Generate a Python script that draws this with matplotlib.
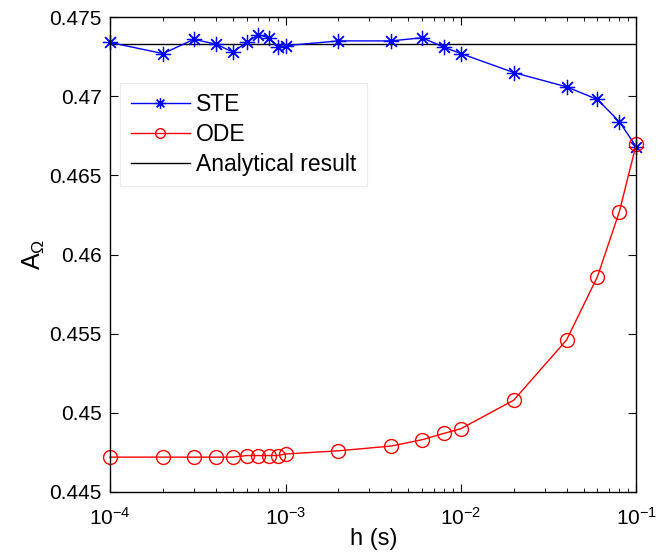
import numpy as np
import matplotlib
matplotlib.use("Agg")
import matplotlib.pyplot as plt

plt.rcParams['font.family'] = ['Liberation Sans', 'DejaVu Sans']
plt.rcParams['mathtext.fontset'] = 'custom'
plt.rcParams['mathtext.rm'] = 'Liberation Sans'
plt.rcParams['mathtext.it'] = 'Liberation Sans'

# step sizes (s)
h = [1e-4, 2e-4, 3e-4, 4e-4, 5e-4, 6e-4, 7e-4, 8e-4, 9e-4, 1e-3,
     2e-3, 4e-3, 6e-3, 8e-3, 1e-2, 2e-2, 4e-2, 6e-2, 8e-2, 1e-1]

ste = [0.4734, 0.4727, 0.4736, 0.4733, 0.4728, 0.4734, 0.4739, 0.4737, 0.4731, 0.4732,
       0.4735, 0.4735, 0.4737, 0.4731, 0.4727, 0.4715, 0.4706, 0.4698, 0.4684, 0.4668]

ode = [0.4472, 0.4472, 0.4472, 0.4472, 0.4472, 0.4473, 0.4473, 0.4473, 0.4473, 0.4474,
       0.4476, 0.4479, 0.4483, 0.4487, 0.4490, 0.4508, 0.4546, 0.4586, 0.4627, 0.4670]

analytical = 0.4733

fig = plt.figure(figsize=(6.56, 5.54), dpi=100)
ax = fig.add_axes([0.168, 0.112, 0.802, 0.857])

# matlab style asterisk: 8 arms
ast = (8, 2, 0)
ax.plot(h, ste, '-', color='blue', marker=ast, markersize=11, mew=0.9, lw=1,
        label='STE', clip_on=False, zorder=3)
ax.plot(h, ode, '-', color='red', marker='o', markersize=10, mfc='none', mew=1, lw=1,
        label='ODE', clip_on=False, zorder=4)
ax.axhline(analytical, color='black', lw=1, label='Analytical result', zorder=2)

ax.set_xscale('log')
ax.set_xlim(1e-4, 1e-1)
ax.set_ylim(0.445, 0.475)
ax.set_yticks([0.445, 0.45, 0.455, 0.46, 0.465, 0.47, 0.475])
ax.set_yticklabels(['0.445', '0.45', '0.455', '0.46', '0.465', '0.47', '0.475'])

ax.tick_params(which='both', direction='in', top=True, right=True, labelsize=15)
ax.tick_params(which='major', length=6)
ax.tick_params(which='minor', length=3)
ax.tick_params(axis='x', pad=11)
ax.tick_params(axis='y', pad=6)
for s in ax.spines.values():
    s.set_linewidth(1)
    s.set_zorder(5)

ax.set_xlabel('h (s)', fontsize=17, labelpad=-1)
ax.set_ylabel(r'$\mathregular{A_{\Omega}}$', fontsize=18, labelpad=2)

leg = ax.legend(loc='upper left', bbox_to_anchor=(0.019, 0.862), fontsize=16.5,
                fancybox=False, framealpha=1, borderpad=0.45, handlelength=2.6,
                handletextpad=0.26, labelspacing=0.3, numpoints=1, markerscale=0.7,
                borderaxespad=0)
leg.get_frame().set_edgecolor('#ececec')
leg.get_frame().set_linewidth(0.8)

fig.savefig('out.png', dpi=100)
